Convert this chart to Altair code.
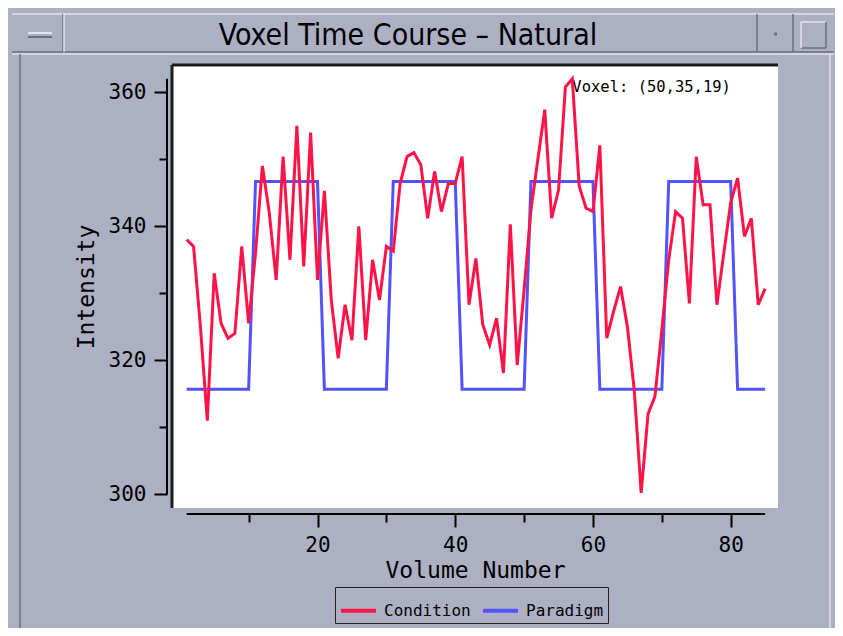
import altair as alt
import pandas as pd

# ---------------- data ----------------
volume = list(range(1, 86))

condition = [338.0, 337.0, 325.0, 311.0, 333.0, 325.5, 323.3, 324.0, 337.0, 325.5,
             336.0, 349.0, 342.0, 332.0, 350.4, 335.0, 355.0, 334.0, 354.0, 332.0,
             345.3, 329.0, 320.3, 328.3, 323.0, 340.0, 323.0, 335.0, 329.0, 337.0,
             336.3, 346.4, 350.4, 351.0, 349.2, 341.2, 348.2, 342.2, 346.4, 346.4,
             350.4, 328.3, 335.2, 325.3, 322.3, 326.3, 318.1, 340.3, 319.3, 330.5,
             342.5, 350.0, 357.4, 341.2, 345.4, 360.8, 362.0, 346.0, 342.7, 342.2,
             352.1, 323.3, 327.3, 331.0, 325.0, 315.5, 300.2, 312.0, 314.6, 324.5,
             335.0, 342.2, 341.2, 328.5, 350.4, 343.2, 343.2, 328.3, 336.0, 343.5,
             347.2, 338.5, 341.2, 328.3, 330.7]

paradigm = [315.7, 315.7, 315.7, 315.7, 315.7, 315.7, 315.7, 315.7, 315.7, 315.7,
            346.7, 346.7, 346.7, 346.7, 346.7, 346.7, 346.7, 346.7, 346.7, 346.7,
            315.7, 315.7, 315.7, 315.7, 315.7, 315.7, 315.7, 315.7, 315.7, 315.7,
            346.7, 346.7, 346.7, 346.7, 346.7, 346.7, 346.7, 346.7, 346.7, 346.7,
            315.7, 315.7, 315.7, 315.7, 315.7, 315.7, 315.7, 315.7, 315.7, 315.7,
            346.7, 346.7, 346.7, 346.7, 346.7, 346.7, 346.7, 346.7, 346.7, 346.7,
            315.7, 315.7, 315.7, 315.7, 315.7, 315.7, 315.7, 315.7, 315.7, 315.7,
            346.7, 346.7, 346.7, 346.7, 346.7, 346.7, 346.7, 346.7, 346.7, 346.7,
            315.7, 315.7, 315.7, 315.7, 315.7]

series_names = ["Condition", "Paradigm"]
series_colors = ["#ff1449", "#5252ff"]

x_ticks = [10, 20, 30, 40, 50, 60, 70, 80]
y_ticks = [300, 310, 320, 330, 340, 350, 360]
x_axis_span = [1, 85]
y_axis_span = [300, 362]

title_text = "Voxel Time Course \u2013 Natural"
voxel_label = "Voxel: (50,35,19)"
voxel_at = [57, 360]

# ---------------- styling ----------------
W, H = 606, 443
OX, OY = 172, 65          # plot origin on the page
BG = "#adb0c3"
MONO = "DejaVu Sans Mono"

df_cond = pd.DataFrame({"volume": volume, "value": condition, "series": series_names[0]})
df_para = pd.DataFrame({"volume": volume, "value": paradigm, "series": series_names[1]})
one = pd.DataFrame({"k": [0]})

x_scale = alt.Scale(domain=[-1.13, 86.87], nice=False, zero=False)
y_scale = alt.Scale(domain=[297.96, 364.07], nice=False, zero=False)
color_scale = alt.Scale(domain=series_names, range=series_colors)

major_tick = {"condition": {"test": "datum.value % 20 === 0", "value": 13}, "value": 8}

x_axis = alt.Axis(values=x_ticks, domain=False, offset=6, grid=False,
                  tickSize=major_tick, tickWidth=2, tickColor="black",
                  labelExpr="datum.value % 20 === 0 ? datum.label : ''",
                  labelFont=MONO, labelFontSize=21, labelColor="black",
                  labelPadding=7, labelFlush=False, labelOverlap=False,
                  title="Volume Number", titleFont=MONO, titleFontSize=23,
                  titleFontWeight="normal", titleColor="black", titlePadding=4)

y_axis = alt.Axis(values=y_ticks, domain=False, offset=5, grid=False,
                  tickSize=major_tick, tickWidth=2, tickColor="black",
                  labelExpr="datum.value % 20 === 0 ? datum.label : ''",
                  labelFont=MONO, labelFontSize=21, labelColor="black",
                  labelPadding=8, labelFlush=False, labelOverlap=False,
                  title="Intensity", titleFont=MONO, titleFontSize=23,
                  titleFontWeight="normal", titleColor="black", titlePadding=10)

legend = alt.Legend(orient="none", legendX=163, legendY=522, direction="horizontal",
                    title=None, fillColor=BG, strokeColor="#222222", padding=4,
                    symbolType="stroke", symbolSize=1225, symbolStrokeWidth=4,
                    labelFont=MONO, labelFontSize=16, labelColor="black",
                    columnPadding=4, labelOffset=6)

para_line = alt.Chart(df_para).mark_line(strokeWidth=3).encode(
    x=alt.X("volume:Q", scale=x_scale, axis=x_axis),
    y=alt.Y("value:Q", scale=y_scale, axis=y_axis),
    color=alt.Color("series:N", scale=color_scale, legend=legend),
)
cond_line = alt.Chart(df_cond).mark_line(strokeWidth=3).encode(
    x=alt.X("volume:Q", scale=x_scale, axis=x_axis),
    y=alt.Y("value:Q", scale=y_scale, axis=y_axis),
    color=alt.Color("series:N", scale=color_scale, legend=legend),
)

voxel_text = alt.Chart(one).mark_text(align="left", baseline="alphabetic", font=MONO,
                                      fontSize=15.5, color="black").encode(
    x=alt.datum(voxel_at[0]),
    y=alt.datum(voxel_at[1]),
    text=alt.value(voxel_label),
)

x_axis_line = alt.Chart(one).mark_rule(color="black", strokeWidth=2).encode(
    x=alt.datum(x_axis_span[0]), x2=alt.datum(x_axis_span[1]),
    y=alt.value(H + 6),
)
y_axis_line = alt.Chart(one).mark_rule(color="black", strokeWidth=2).encode(
    y=alt.datum(y_axis_span[0]), y2=alt.datum(y_axis_span[1]),
    x=alt.value(-5),
)

frame_top = alt.Chart(one).mark_rule(color="#1c1c1c", strokeWidth=3).encode(
    x=alt.value(0), x2=alt.value(W), y=alt.value(0))
frame_left = alt.Chart(one).mark_rule(color="#1c1c1c", strokeWidth=3).encode(
    x=alt.value(0), y=alt.value(0), y2=alt.value(H))

title_mark = alt.Chart(one).mark_text(
    align="center", baseline="alphabetic", font="DejaVu Sans Condensed",
    fontSize=30, color="black", text=title_text,
).encode(x=alt.value(408 - OX), y=alt.value(45 - OY))


def seg(x1, y1, x2, y2, color, width=1.5):
    # window chrome lines (page pixels, shifted to the plot origin)
    return alt.Chart(one).mark_rule(color=color, strokeWidth=width).encode(
        x=alt.value(x1 - OX), x2=alt.value(x2 - OX),
        y=alt.value(y1 - OY), y2=alt.value(y2 - OY))


LIGHT = "#e2e4ee"
DARK = "#6c6f80"
chrome = [
    seg(12, 14, 834, 14, LIGHT), seg(12, 52, 834, 52, DARK),
    seg(12, 54, 834, 54, LIGHT),
    seg(63, 14, 63, 52, DARK), seg(64, 14, 64, 52, LIGHT),
    seg(757, 14, 757, 52, DARK), seg(793, 14, 793, 52, DARK),
    seg(20, 54, 20, 630, DARK), seg(830, 54, 830, 630, LIGHT),
    seg(20, 630, 830, 630, LIGHT),
    seg(28, 33, 52, 33, LIGHT, 2), seg(28, 37, 52, 37, DARK, 2),
    seg(774, 34, 777, 34, DARK, 3),
    seg(801, 22, 826, 22, LIGHT), seg(801, 48, 826, 48, DARK),
    seg(801, 22, 801, 48, LIGHT), seg(826, 22, 826, 48, DARK),
]

chart = alt.layer(
    *chrome, title_mark, voxel_text, para_line, cond_line,
    x_axis_line, y_axis_line, frame_top, frame_left
).properties(
    width=W, height=H,
    autosize=alt.AutoSizeParams(type="none"),
    padding={"left": 164, "top": 57, "right": 57, "bottom": 120},
    background=BG,
).configure_view(fill="white", strokeWidth=0)

chart.save("out.html", embed_options={"renderer": "svg", "actions": False})
